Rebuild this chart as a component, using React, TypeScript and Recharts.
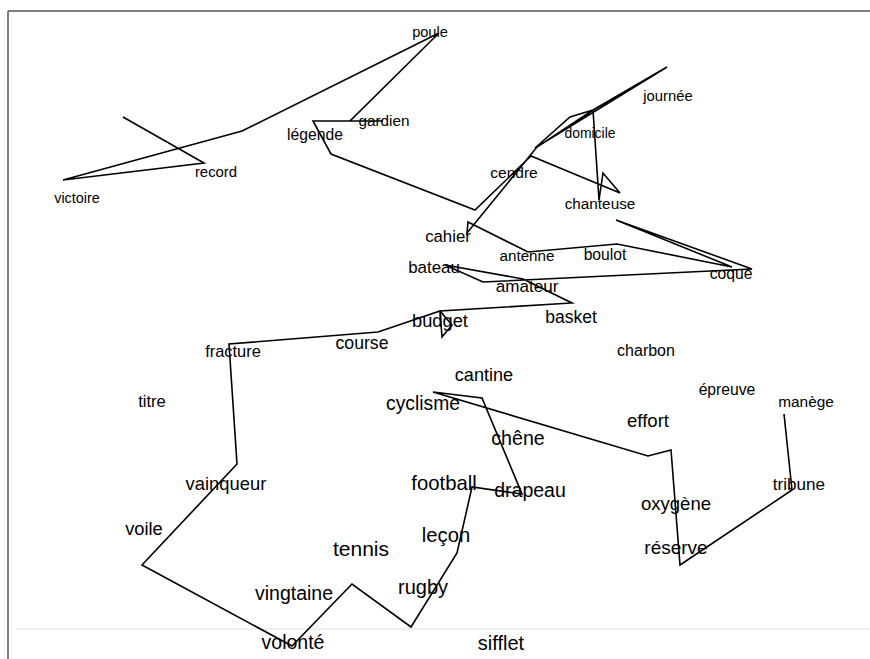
import { ReferenceLine, Scatter, ScatterChart, XAxis, YAxis } from "recharts"

// word positions on the map (map units = picture pixels, y downward)
const words = [
  "poule", "gardien", "légende", "victoire", "record", "journée", "domicile", "cendre",
  "chanteuse", "cahier", "antenne", "boulot", "coque", "bateau", "amateur", "basket",
  "budget", "course", "fracture", "charbon", "titre", "cantine", "cyclisme", "épreuve",
  "manège", "effort", "chêne", "vainqueur", "football", "drapeau", "tribune", "oxygène",
  "voile", "leçon", "tennis", "réserve", "vingtaine", "rugby", "volonté", "sifflet",
]
const wordX = [
  430, 384, 315, 77, 216, 668, 590, 514,
  600, 448, 527, 605, 731, 434, 527, 571,
  440, 362, 233, 646, 152, 484, 423, 727,
  806, 648, 518, 226, 444, 530, 799, 676,
  144, 446, 361, 676, 294, 423, 293, 501,
]
const wordY = [
  32, 120, 134, 198, 172, 96, 133, 172,
  203, 236, 255, 254, 273, 267, 286, 317,
  320, 343, 351, 350, 401, 375, 403, 389,
  401, 420, 438, 483, 483, 490, 484, 503,
  528, 535, 548, 547, 593, 587, 642, 643,
]
const wordWeight = [
  14.6, 15.3, 15.7, 14.4, 14.9, 14.8, 13.9, 15.5,
  15.3, 16.8, 15.2, 15.7, 15.7, 16.9, 17.1, 17.5,
  18.3, 17.7, 16.4, 16, 16.6, 18.1, 19.3, 15.7,
  15.4, 18.6, 19.6, 18.4, 20.3, 19.5, 17.1, 18.5,
  18.3, 20.2, 21, 19, 19.5, 20, 19.5, 20,
]

// trajectory through the map
const pathX = [
  123, 204, 63, 242, 439, 350, 383, 313, 331, 475,
  531, 620, 603, 599, 593, 667, 535, 570, 593, 537,
  467, 468, 528, 617, 732, 616, 752, 483, 445, 523,
  572, 440, 442, 452, 440, 378, 229, 237, 142, 292,
  352, 411, 457, 472, 522, 482, 433, 648, 671, 680,
  792, 784,
]
const pathY = [
  117, 163, 180, 131, 33, 121, 121, 121, 154, 210,
  156, 193, 173, 200, 110, 67, 148, 117, 110, 147,
  233, 222, 252, 244, 267, 220, 269, 282, 265, 279,
  303, 311, 337, 325, 311, 332, 344, 464, 565, 646,
  584, 627, 553, 487, 494, 398, 392, 456, 450, 565,
  490, 414,
]

const wordData = words.map((word, i) => ({ word, x: wordX[i], y: wordY[i], w: wordWeight[i] }))
const pathData = pathX.map((x, i) => ({ x, y: pathY[i] }))

const W = 870
const H = 659

function WordLabel(props: any) {
  const { cx, cy, payload } = props
  return (
    <text
      x={cx}
      y={cy}
      textAnchor="middle"
      dominantBaseline="central"
      fontFamily="'Liberation Sans', Arial, sans-serif"
      fontSize={payload.w}
      fill="#000"
    >
      {payload.word}
    </text>
  )
}

export default function App() {
  return (
    <div style={{ position: "absolute", left: 0, top: 0, width: W, height: H, background: "#fff" }}>
      <ScatterChart width={W} height={H} margin={{ top: 0, right: 0, bottom: 0, left: 0 }}>
        <XAxis type="number" dataKey="x" domain={[0, W]} hide allowDataOverflow />
        <YAxis type="number" dataKey="y" domain={[0, H]} reversed hide allowDataOverflow />
        <ReferenceLine segment={[{ x: 16, y: 629 }, { x: W, y: 629 }]} stroke="#ebeae3" strokeWidth={1.5} />
        <ReferenceLine segment={[{ x: 8, y: 11 }, { x: W, y: 11 }]} stroke="#555" strokeWidth={1.5} />
        <ReferenceLine segment={[{ x: 8, y: 11 }, { x: 8, y: H }]} stroke="#555" strokeWidth={1.5} />
        <Scatter
          data={pathData}
          line={{ stroke: "#000", strokeWidth: 1.6 }}
          lineType="joint"
          shape={() => <g />}
          isAnimationActive={false}
        />
        <Scatter data={wordData} shape={WordLabel} isAnimationActive={false} />
      </ScatterChart>
    </div>
  )
}
